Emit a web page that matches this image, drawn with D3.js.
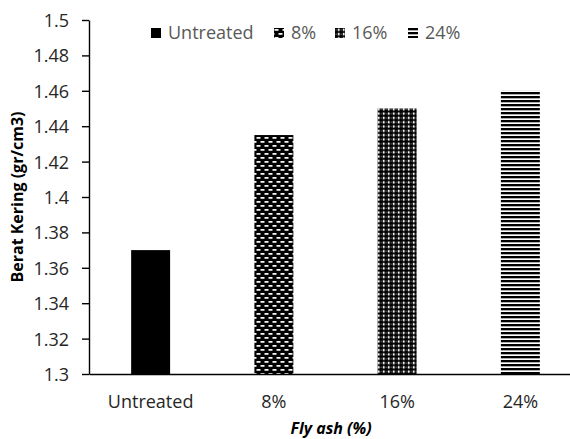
<!DOCTYPE html>
<html>
<head>
<meta charset="utf-8">
<script src="https://cdn.jsdelivr.net/npm/d3@7"></script>
<style>
  html, body { margin: 0; padding: 0; background: #fff; }
  svg { display: block; font-family: "Open Sans", sans-serif; }
</style>
</head>
<body>
<svg id="chart" width="570" height="439"></svg>
<script>
// Dry weight by fly ash content
const categories = ["Untreated", "8%", "16%", "24%"];
const values = [1.37, 1.435, 1.45, 1.46];
const yTicks = [1.3, 1.32, 1.34, 1.36, 1.38, 1.4, 1.42, 1.44, 1.46, 1.48, 1.5];
const fills = ["solid", "brick", "grid", "hlines"];

const svg = d3.select("#chart");
const margin = { left: 89, top: 20, bottom: 374, right: 582 };

const x = d3.scaleBand()
  .domain(categories)
  .range([margin.left, margin.right])
  .paddingInner(0.684)
  .paddingOuter(0.342);

const y = d3.scaleLinear()
  .domain([1.3, 1.5])
  .range([margin.bottom, margin.top]);

// Fill patterns
const defs = svg.append("defs");

const brick = defs.append("pattern").attr("id", "brick")
  .attr("patternUnits", "userSpaceOnUse").attr("width", 8).attr("height", 8);
brick.append("rect").attr("width", 8).attr("height", 8).attr("fill", "#000");
brick.append("rect").attr("x", 0.5).attr("y", 1).attr("width", 4).attr("height", 1.8).attr("fill", "#f2f2f2");
brick.append("rect").attr("x", 4.5).attr("y", 5).attr("width", 4).attr("height", 1.8).attr("fill", "#f2f2f2");
brick.append("rect").attr("x", -3.5).attr("y", 5).attr("width", 4).attr("height", 1.8).attr("fill", "#f2f2f2");

const grid = defs.append("pattern").attr("id", "grid")
  .attr("patternUnits", "userSpaceOnUse").attr("width", 5).attr("height", 4.3);
grid.append("rect").attr("width", 5).attr("height", 4.3).attr("fill", "#000");
grid.append("rect").attr("x", 2.8).attr("y", 0.6).attr("width", 1.8).attr("height", 2.4).attr("fill", "#f4f4f4");
grid.append("rect").attr("x", 0.6).attr("y", 1.2).attr("width", 1).attr("height", 1.4).attr("fill", "#777");

const hlines = defs.append("pattern").attr("id", "hlines")
  .attr("patternUnits", "userSpaceOnUse").attr("width", 8).attr("height", 4);
hlines.append("rect").attr("width", 8).attr("height", 4).attr("fill", "#fff");
hlines.append("rect").attr("y", 0).attr("width", 8).attr("height", 2).attr("fill", "#000");
hlines.append("rect").attr("y", 2).attr("width", 8).attr("height", 0.8).attr("fill", "#999");

const fillOf = i => fills[i] === "solid" ? "#000" : `url(#${fills[i]})`;

// Bars
svg.append("g").selectAll("rect")
  .data(values)
  .join("rect")
  .attr("x", (d, i) => x(categories[i]))
  .attr("y", d => y(d))
  .attr("width", x.bandwidth())
  .attr("height", d => y(1.3) - y(d))
  .attr("fill", (d, i) => fillOf(i));

// Y axis
const yAxis = svg.append("g")
  .attr("transform", `translate(${margin.left},0)`)
  .call(d3.axisLeft(y)
    .tickValues(yTicks)
    .tickSize(7)
    .tickSizeOuter(0)
    .tickPadding(13)
    .tickFormat(d => String(+d.toFixed(2))));
yAxis.select(".domain").attr("stroke", "#000").attr("stroke-width", 1.4);
yAxis.selectAll(".tick line").attr("stroke", "#000").attr("stroke-width", 1.4);
yAxis.selectAll(".tick text")
  .attr("font-size", 18)
  .attr("font-family", "Open Sans, sans-serif")
  .attr("fill", "#262626")
  .attr("dy", "0.36em");

// X axis
const xAxis = svg.append("g")
  .attr("transform", `translate(0,${margin.bottom})`)
  .call(d3.axisBottom(x).tickSize(0).tickSizeOuter(0));
xAxis.select(".domain").attr("stroke", "#000").attr("stroke-width", 1.4);
xAxis.selectAll(".tick text")
  .attr("font-size", 18)
  .attr("font-family", "Open Sans, sans-serif")
  .attr("fill", "#262626")
  .attr("y", 28)
  .attr("dy", "0.36em");

// Axis titles
svg.append("text")
  .attr("transform", `translate(17,${(margin.top + margin.bottom) / 2}) rotate(-90)`)
  .attr("text-anchor", "middle")
  .attr("dy", "0.36em")
  .attr("font-size", 16)
  .attr("font-weight", "bold")
  .attr("fill", "#000")
  .text("Berat Kering (gr/cm3)");

svg.append("text")
  .attr("x", 331)
  .attr("y", 428)
  .attr("text-anchor", "middle")
  .attr("dy", "0.36em")
  .attr("font-size", 16)
  .attr("font-weight", "bold")
  .attr("font-style", "italic")
  .attr("fill", "#000")
  .text("Fly ash (%)");

// Legend
const legendX = [151, 274, 335, 408];
const legend = svg.append("g").selectAll("g")
  .data(categories)
  .join("g")
  .attr("transform", (d, i) => `translate(${legendX[i]},28)`);
legend.append("rect")
  .attr("width", 10).attr("height", 10)
  .attr("fill", (d, i) => fillOf(i));
legend.append("text")
  .attr("x", 17).attr("y", 5)
  .attr("dy", "0.36em")
  .attr("font-size", 18)
  .attr("fill", "#595959")
  .text(d => d);
</script>
</body>
</html>
